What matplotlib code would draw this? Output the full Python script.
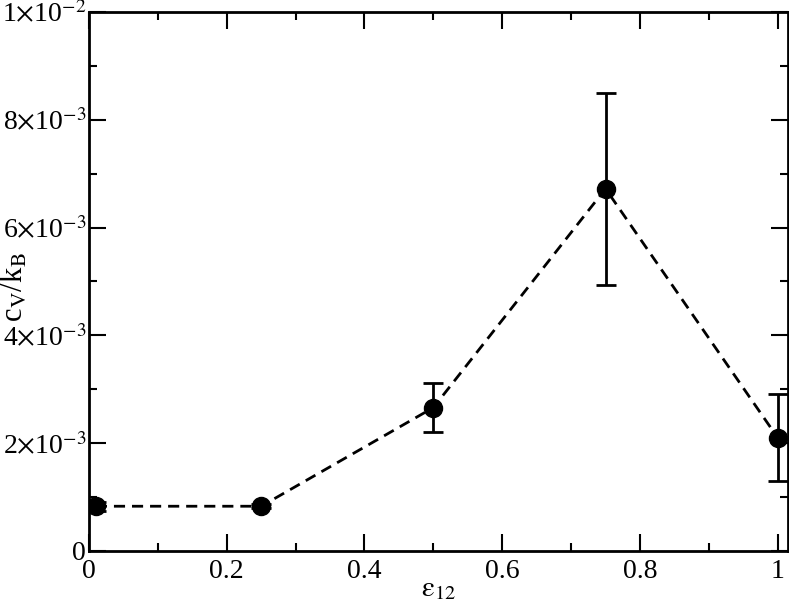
import matplotlib
matplotlib.use("Agg")
import matplotlib.pyplot as plt
from matplotlib.ticker import MultipleLocator

plt.rcParams['font.family'] = ['Liberation Serif', 'DejaVu Serif']
plt.rcParams['mathtext.fontset'] = 'stix'

# data
eps12 = [0.01, 0.25, 0.5, 0.75, 1.0]
cv = [0.00083, 0.00083, 0.00266, 0.00672, 0.00210]
cv_err = [0.00008, 0.00004, 0.00046, 0.00178, 0.00081]

yticks = [0, 0.002, 0.004, 0.006, 0.008, 0.010]
ytick_labels = ["0", r"2$\times$10$^{-3}$", r"4$\times$10$^{-3}$",
                r"6$\times$10$^{-3}$", r"8$\times$10$^{-3}$", r"1$\times$10$^{-2}$"]
xticks = [0, 0.2, 0.4, 0.6, 0.8, 1.0]
xtick_labels = ["0", "0.2", "0.4", "0.6", "0.8", "1"]

fig = plt.figure(figsize=(7.89, 6.07), dpi=100)
ax = fig.add_axes([0.1128, 0.0923, 0.886, 0.888])

ax.errorbar(eps12, cv, yerr=cv_err, fmt='o', color='black', markersize=13,
            ecolor='black', elinewidth=2, capsize=7, capthick=2, zorder=3)
ax.plot(eps12, cv, linestyle=(0, (4, 2.5)), color='black', linewidth=2, zorder=2)

ax.set_xlim(0, 1.015)
ax.set_ylim(0, 0.01)
ax.set_xticks(xticks)
ax.set_xticklabels(xtick_labels)
ax.set_yticks(yticks)
ax.set_yticklabels(ytick_labels)
ax.xaxis.set_minor_locator(MultipleLocator(0.1))
ax.yaxis.set_minor_locator(MultipleLocator(0.001))
ax.tick_params(which='both', direction='in', top=True, right=True, width=1.5,
               labelsize=20)
ax.tick_params(axis='y', pad=2)
ax.tick_params(axis='x', pad=6)
ax.tick_params(which='major', length=12)
ax.tick_params(which='minor', length=6)
for s in ax.spines.values():
    s.set_linewidth(2)

ax.set_xlabel(r"$\mathrm{\varepsilon}_{12}$", fontsize=21, labelpad=-6)
ax.set_ylabel(r"c$_\mathrm{V}$/k$_\mathrm{B}$", fontsize=22)
ax.yaxis.set_label_coords(-0.085, 0.49)

fig.savefig("out.png", dpi=100)
